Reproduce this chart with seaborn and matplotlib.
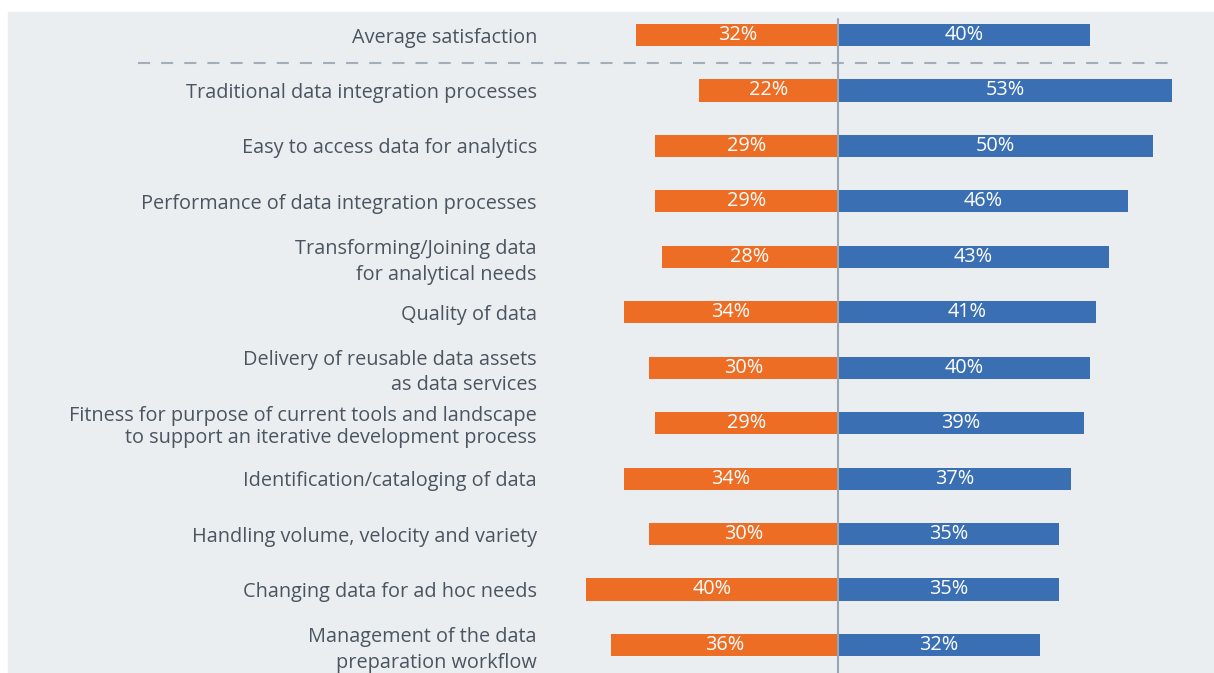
import matplotlib
matplotlib.use('Agg')
import matplotlib.pyplot as plt
from matplotlib.patches import Rectangle
import seaborn as sns

# 数据
categories = [
    "Average satisfaction",
    "Traditional data integration processes",
    "Easy to access data for analytics",
    "Performance of data integration processes",
    "Transforming/Joining data\nfor analytical needs",
    "Quality of data",
    "Delivery of reusable data assets\nas data services",
    "Fitness for purpose of current tools and landscape\nto support an iterative development process",
    "Identification/cataloging of data",
    "Handling volume, velocity and variety",
    "Changing data for ad hoc needs",
    "Management of the data\npreparation workflow",
]
dissatisfied = [32, 22, 29, 29, 28, 34, 30, 29, 34, 30, 40, 36]
satisfied = [40, 53, 50, 46, 43, 41, 40, 39, 37, 35, 35, 32]

ORANGE = '#EE6D25'
BLUE = '#3A70B3'
PANEL = '#EBEEF1'
TEXT = '#4B5560'
RULE = '#9AA5B3'

sns.set_style('white')
plt.rcParams['font.family'] = ['Open Sans', 'DejaVu Sans']

W, H = 1214, 673
fig = plt.figure(figsize=(W / 100, H / 100), dpi=100)
fig.patch.set_facecolor('white')
fig.patches.append(Rectangle((8 / W, 0), (W - 8) / W, (H - 12) / H,
                             transform=fig.transFigure, color=PANEL, zorder=-10))

ax = fig.add_axes([545 / W, 0, (W - 545) / W, (H - 12) / H])
ax.set_facecolor('none')

sns.barplot(x=[-v for v in dissatisfied], y=categories, orient='h',
            color=ORANGE, saturation=1, width=0.4, errorbar=None,
            linewidth=0, ax=ax)
sns.barplot(x=satisfied, y=categories, orient='h',
            color=BLUE, saturation=1, width=0.4, errorbar=None,
            linewidth=0, ax=ax)

for i, (d, s) in enumerate(zip(dissatisfied, satisfied)):
    ax.text(-d / 2, i, f'{d}%', ha='center', va='center', color='white', fontsize=14.3)
    ax.text(s / 2, i, f'{s}%', ha='center', va='center', color='white', fontsize=14.3)

ax.set_xlim(-(838 - 545) / 6.3, (W - 838) / 6.3)
ax.set_ylim(11.506, -0.415)

# 中线和分隔虚线
ax.axvline(0, ymin=0, ymax=0.989, color=RULE, lw=1.5, zorder=5)
ax.plot([-111.1, 53.0], [0.5, 0.5], color='#A3AEBB', lw=1.5,
        ls=(0, (5.8, 5.3)), clip_on=False, zorder=4)

ax.set_yticks(range(len(categories)))
ax.set_yticklabels(categories, fontsize=14.3, color=TEXT, linespacing=1.35)
for lab in ax.get_yticklabels():
    if lab.get_text().startswith('Fitness'):
        lab.set_linespacing(1.15)
ax.tick_params(axis='y', length=0, pad=5.8)
ax.set_xticks([])
ax.set_xlabel('')
ax.set_ylabel('')
for sp in ax.spines.values():
    sp.set_visible(False)

fig.savefig('out.png', dpi=100)
